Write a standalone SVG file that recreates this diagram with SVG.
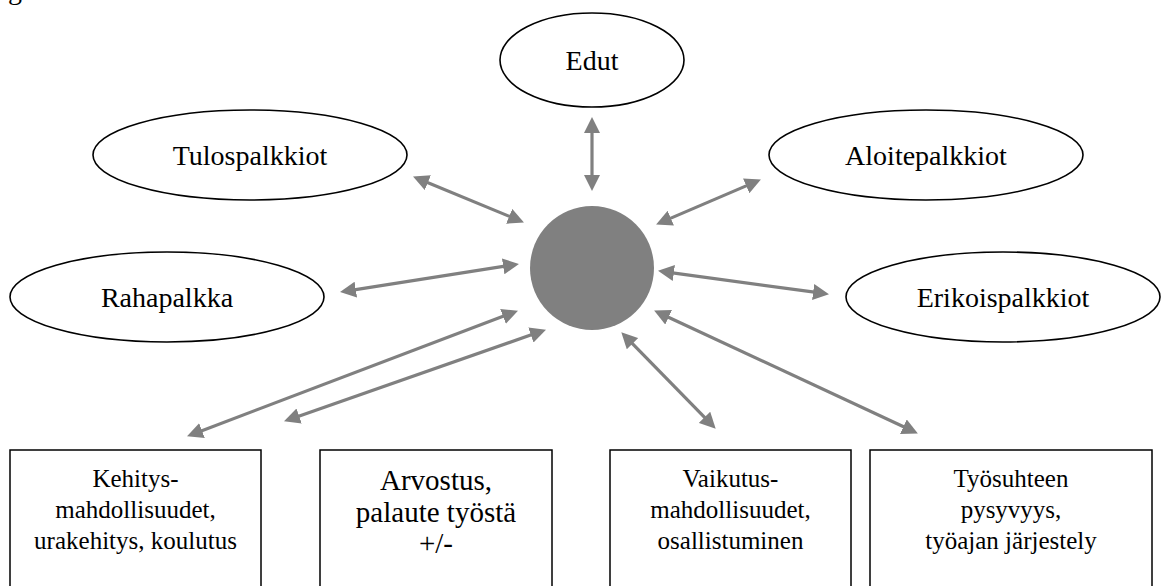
<svg xmlns="http://www.w3.org/2000/svg" width="1164" height="586" viewBox="0 0 1164 586">
<style>
  .bg{fill:#ffffff}
  .ell{fill:#ffffff;stroke:#000000;stroke-width:1.6}
  .box{fill:#ffffff;stroke:#000000;stroke-width:1.5}
  .hub{fill:#808080}
  .lbl{font-family:"Liberation Serif","Times New Roman",serif;font-size:28px;fill:#000000;text-anchor:middle}
  .blbl{font-family:"Liberation Serif","Times New Roman",serif;font-size:25px;fill:#000000;text-anchor:middle}
  .blbl2{font-family:"Liberation Serif","Times New Roman",serif;font-size:29px;fill:#000000;text-anchor:middle}
  .con{stroke:#808080;stroke-width:3.2;fill:none;marker-start:url(#ah);marker-end:url(#ah)}
</style>
<defs>
  <marker id="ah" markerUnits="userSpaceOnUse" markerWidth="16" markerHeight="16" refX="5" refY="8" orient="auto-start-reverse" viewBox="0 0 16 16">
    <path d="M0,0 L16,8 L0,16 Z" fill="#808080"/>
  </marker>
</defs>
<rect class="bg" x="0" y="0" width="1164" height="586"/>
<text x="8" y="-1" style="font-family:'Liberation Serif',serif;font-size:28px">g.</text>

<g id="connectors">
  <line class="con" x1="592" y1="128" x2="592" y2="180"/>
  <line class="con" x1="423.2" y1="180.8" x2="513.8" y2="218.2"/>
  <line class="con" x1="750.8" y1="183.9" x2="666.2" y2="220.1"/>
  <line class="con" x1="350.9" y1="290.4" x2="508.1" y2="265.6"/>
  <line class="con" x1="668.9" y1="272.3" x2="818.1" y2="292.7"/>
  <line class="con" x1="507.7" y1="314.6" x2="197.3" y2="432.4"/>
  <line class="con" x1="535.6" y1="333.3" x2="294.4" y2="417.7"/>
  <line class="con" x1="629" y1="340.1" x2="708" y2="420.9"/>
  <line class="con" x1="664.1" y1="315.2" x2="907.9" y2="428.8"/>
</g>

<g id="hub"><circle class="hub" cx="592" cy="268" r="62"/></g>

<g id="edut">
  <ellipse class="ell" cx="592" cy="60" rx="92" ry="47"/>
  <text class="lbl" x="592" y="70">Edut</text>
</g>
<g id="tulospalkkiot">
  <ellipse class="ell" cx="250" cy="155" rx="157" ry="45"/>
  <text class="lbl" x="250" y="165">Tulospalkkiot</text>
</g>
<g id="aloitepalkkiot">
  <ellipse class="ell" cx="926" cy="155" rx="157" ry="45"/>
  <text class="lbl" x="926" y="165">Aloitepalkkiot</text>
</g>
<g id="rahapalkka">
  <ellipse class="ell" cx="167" cy="297" rx="157" ry="45"/>
  <text class="lbl" x="167" y="307">Rahapalkka</text>
</g>
<g id="erikoispalkkiot">
  <ellipse class="ell" cx="1003" cy="297" rx="157" ry="45"/>
  <text class="lbl" x="1003" y="307">Erikoispalkkiot</text>
</g>

<g id="kehitys">
  <rect class="box" x="10" y="450" width="251" height="160"/>
  <text class="blbl" x="135.5" y="487">Kehitys-</text>
  <text class="blbl" x="135.5" y="518">mahdollisuudet,</text>
  <text class="blbl" x="135.5" y="549">urakehitys, koulutus</text>
</g>
<g id="arvostus">
  <rect class="box" x="320" y="450" width="232" height="160"/>
  <text class="blbl2" x="436" y="490">Arvostus,</text>
  <text class="blbl2" x="436" y="522">palaute työstä</text>
  <text class="blbl2" x="436" y="553">+/-</text>
</g>
<g id="vaikutus">
  <rect class="box" x="610" y="450" width="241" height="160"/>
  <text class="blbl" x="730.5" y="487">Vaikutus-</text>
  <text class="blbl" x="730.5" y="518">mahdollisuudet,</text>
  <text class="blbl" x="730.5" y="549">osallistuminen</text>
</g>
<g id="tyosuhde">
  <rect class="box" x="870" y="450" width="282" height="160"/>
  <text class="blbl" x="1011" y="487">Työsuhteen</text>
  <text class="blbl" x="1011" y="518">pysyvyys,</text>
  <text class="blbl" x="1011" y="549">työajan järjestely</text>
</g>
</svg>
